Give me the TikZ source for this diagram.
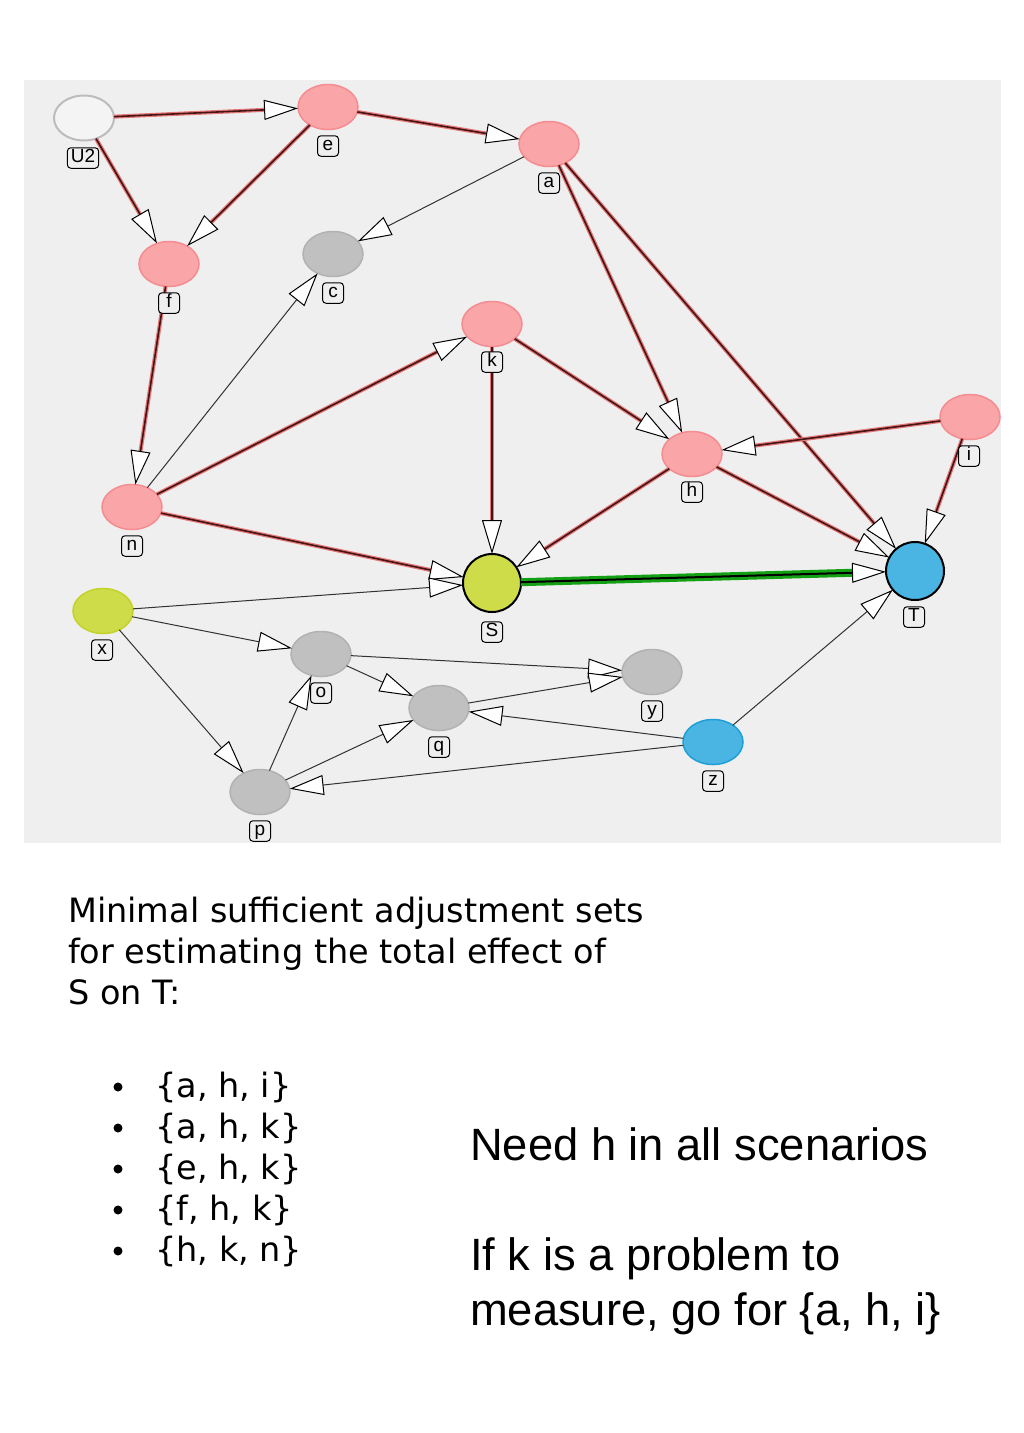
\documentclass[tikz,border=0pt]{standalone}
\usepackage{fontspec}
\setmainfont{Liberation Sans}
\newfontfamily\pixfont{DejaVu Sans}
\usetikzlibrary{arrows.meta,shapes.geometric}
\definecolor{panelbg}{RGB}{239,239,239}
\definecolor{pinkfill}{RGB}{250,165,168}
\definecolor{pinkrim}{RGB}{244,140,145}
\definecolor{grayfill}{RGB}{192,192,192}
\definecolor{grayrim}{RGB}{178,178,178}
\definecolor{whitefill}{RGB}{244,244,244}
\definecolor{whiterim}{RGB}{188,188,188}
\definecolor{ygfill}{RGB}{207,220,74}
\definecolor{ygrim}{RGB}{196,210,40}
\definecolor{bluefill}{RGB}{74,181,227}
\definecolor{bluerim}{RGB}{30,160,215}
\definecolor{redcore}{RGB}{70,20,20}
\definecolor{redhalo}{RGB}{228,120,120}
\definecolor{plaincol}{RGB}{50,50,50}
\definecolor{greenhalo}{RGB}{20,160,20}
\tikzset{
  Wtip/.tip={Triangle[length=34pt,width=20pt,fill=white,color=black,line width=1pt]},
  vnode/.style={ellipse, minimum width=60pt, minimum height=45pt, inner sep=0pt, outer sep=0pt, line width=1.5pt},
  pinknode/.style={vnode, fill=pinkfill, draw=pinkrim},
  graynode/.style={vnode, fill=grayfill, draw=grayrim},
  whitenode/.style={vnode, fill=whitefill, draw=whiterim, line width=2pt},
  ygnode/.style={vnode, fill=ygfill, draw=ygrim},
  bluenode/.style={vnode, fill=bluefill, draw=bluerim},
  bignode/.style={circle, minimum size=58pt, inner sep=0pt, outer sep=0pt, draw=black, line width=2pt},
  lab/.style={draw=black, fill=panelbg, rounded corners=3.5pt, line width=1pt, inner xsep=3.5pt, inner ysep=2pt, minimum width=21pt, text height=13pt, text depth=3.5pt, font=\fontsize{19}{20}\selectfont},
  causal/.style={draw=redcore, line width=1.6pt, preaction={draw=redhalo, line width=4pt, arrows=-, shorten >=18pt}, -{Wtip}},
  plain/.style={draw=plaincol, line width=1pt, -{Wtip}},
  greenedge/.style={draw=black, line width=2pt, preaction={draw=greenhalo, line width=8pt, arrows=-, shorten >=18pt}, -{Wtip}},
  pixtext/.style={anchor=base west, inner sep=0pt, font=\pixfont\fontsize{33.5}{40}\selectfont},
  bigtext/.style={anchor=base west, inner sep=0pt, font=\fontsize{45.3}{52}\selectfont},
  bulletdot/.style={circle, fill=black, minimum size=9pt, inner sep=0pt},
}
\begin{document}
\begin{tikzpicture}[x=1pt,y=-1pt]
\useasboundingbox (0,0) rectangle (1024,1433);
\fill[white] (0,0) rectangle (1024,1433);
\fill[panelbg] (24,80) rectangle (1001,843);

% nodes
\node[whitenode] (U2) at (84,118) {};
\node[pinknode] (e) at (328,107) {};
\node[pinknode] (a) at (549,144) {};
\node[pinknode] (f) at (169,264) {};
\node[graynode] (c) at (333,254) {};
\node[pinknode] (k) at (492,324) {};
\node[pinknode] (h) at (692,454) {};
\node[pinknode] (i) at (970,417) {};
\node[pinknode] (n) at (132,507) {};
\node[bignode, fill=ygfill] (S) at (492,583) {};
\node[bignode, fill=bluefill] (T) at (915,571) {};
\node[ygnode] (x) at (103,611) {};
\node[graynode] (o) at (321,654) {};
\node[graynode] (y) at (652,672) {};
\node[graynode] (q) at (439,708) {};
\node[bluenode] (z) at (713,742) {};
\node[graynode] (p) at (260,792) {};

% causal (biasing) edges
\draw[causal] (U2) -- (e);
\draw[causal] (U2) -- (f);
\draw[causal] (e) -- (f);
\draw[causal] (e) -- (a);
\draw[causal] (a) -- (h);
\draw[causal] (a) -- (T);
\draw[causal] (f) -- (n);
\draw[causal] (n) -- (k);
\draw[causal] (n) -- (S);
\draw[causal] (k) -- (S);
\draw[causal] (k) -- (h);
\draw[causal] (i) -- (h);
\draw[causal] (i) -- (T);
\draw[causal] (h) -- (S);
\draw[causal] (h) -- (T);

% plain edges
\draw[plain] (a) -- (c);
\draw[plain] (n) -- (c);
\draw[plain] (x) -- (S);
\draw[plain] (x) -- (o);
\draw[plain] (x) -- (p);
\draw[plain] (o) -- (y);
\draw[plain] (o) -- (q);
\draw[plain] (q) -- (y);
\draw[plain] (p) -- (o);
\draw[plain] (p) -- (q);
\draw[plain] (z) -- (q);
\draw[plain] (z) -- (p);
\draw[plain] (z) -- (T);

% causal effect
\draw[greenedge] (S) -- (T);

% labels
\node[lab] (lU2) at (83,158) {U2};
\node[lab] (le) at (328,146) {e};
\node[lab] (la) at (549,183) {a};
\node[lab] (lf) at (169,303) {f};
\node[lab] (lc) at (333,293) {c};
\node[lab] (lk) at (492,362) {k};
\node[lab] (lh) at (692,492) {h};
\node[lab] (li) at (969,456) {i};
\node[lab] (ln) at (132,546) {n};
\node[lab] (lS) at (492,632) {S};
\node[lab] (lT) at (914,617) {T};
\node[lab] (lx) at (102,650) {x};
\node[lab] (lo) at (321,693) {o};
\node[lab] (ly) at (652,711) {y};
\node[lab] (lq) at (439,747) {q};
\node[lab] (lz) at (713,781) {z};
\node[lab] (lp) at (260,831) {p};

% text
\node[pixtext] (t1) at (68,922) {Minimal sufficient adjustment sets};
\node[pixtext] (t2) at (68,963) {for estimating the total effect of};
\node[pixtext] (t3) at (68,1004) {S on T:};

\node[bulletdot] (b1) at (118,1087) {};
\node[bulletdot] (b2) at (118,1128) {};
\node[bulletdot] (b3) at (118,1169) {};
\node[bulletdot] (b4) at (118,1210) {};
\node[bulletdot] (b5) at (118,1251) {};
\node[pixtext] (s1) at (155,1097) {\{a, h, i\}};
\node[pixtext] (s2) at (155,1138) {\{a, h, k\}};
\node[pixtext] (s3) at (155,1179) {\{e, h, k\}};
\node[pixtext] (s4) at (155,1220) {\{f, h, k\}};
\node[pixtext] (s5) at (155,1261) {\{h, k, n\}};

\node[bigtext] (m1) at (470,1160) {Need h in all scenarios};
\node[bigtext] (m2) at (470,1270) {If k is a problem to};
\node[bigtext] (m3) at (470,1325) {measure, go for \{a, h, i\}};
\end{tikzpicture}
\end{document}
